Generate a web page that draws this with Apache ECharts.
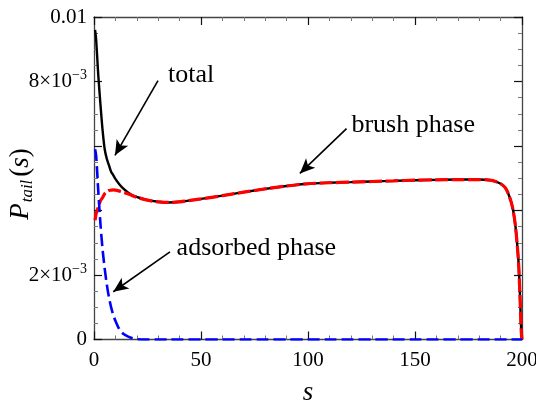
<!DOCTYPE html>
<html>
<head>
<meta charset="utf-8">
<script src="https://cdn.jsdelivr.net/npm/echarts@6/dist/echarts.min.js"></script>
<style>
html,body{margin:0;padding:0;background:#fff;overflow:hidden;}
#chart{width:536px;height:405px;}
</style>
</head>
<body>
<div id="chart"></div>
<script>
// ---- data ----
const sValues = [0.5,1,2,3,4,5,6,7,8,9,10,12,14,16,18,20,25,30,35,40,50,60,70,80,90,100,110,120,130,140,150,160,170,180,185,188,190,192,193,194,195,196,197,198,198.5,199,199.4,199.7,200];
const totalValues = [0.0096,0.0093,0.0082,0.0073,0.0065,0.0059,0.0056,0.0054,0.0052,0.0051,0.00498,0.0048,0.00466,0.00455,0.00447,0.00442,
  0.00432,0.00427,0.00425,0.00427,0.00436,0.00446,0.00457,0.00467,0.00476,0.00483,0.00486,0.00488,0.0049,0.00492,0.00494,0.00495,0.00496,0.00496,
  0.00494,0.00489,0.00483,0.00472,0.00461,0.00445,0.00425,0.00395,0.00348,0.00275,0.00225,0.00144,0.0007,0.0002,0];
const brushValues = [0.0037,0.0039,0.0041,0.0043,0.0044,0.00452,0.00458,0.00462,0.00463,0.00464,0.00463,0.0046,0.00456,0.00451,0.00446,0.00441,
  0.00432,0.00427,0.00425,0.00427,0.00436,0.00446,0.00457,0.00467,0.00476,0.00483,0.00486,0.00488,0.0049,0.00492,0.00494,0.00495,0.00496,0.00496,
  0.00494,0.00489,0.00483,0.00472,0.00461,0.00445,0.00425,0.00395,0.00348,0.00275,0.00225,0.00144,0.0007,0.0002,0];
const adsorbedValues = [0.0059,0.0057,0.0046,0.0036,0.0028,0.0022,0.0017,0.0013,0.001,0.00076,0.00058,0.0003,0.00016,0.00009,0.00004,0.00001,
  0,0,0,0,0,0,0,0,0,0,0,0,0,0,0,0,0,0,
  0,0,0,0,0,0,0,0,0,0,0,0,0,0,0];
const xTickLabels = ['0','50','100','150','200'];
const yTickLabels = ['0','{m|2×10}{sup|−3}','','','{m|8×10}{sup|−3}','0.01'];
// annotations: text, text anchor [s, P] (left/baseline), arrow start, arrow tip
const annTexts = ['total','brush phase','adsorbed phase'];
const annTextAt = [[34.6,0.00797],[120.3,0.00643],[38.6,0.00262]];
const annArrowFrom = [[29.9,0.00803],[118,0.00654],[35.5,0.00272]];
const annArrowTo = [[9.8,0.00571],[96.2,0.00515],[9.0,0.00148]];

const FONT = '"Liberation Serif", "DejaVu Serif", serif';
const pairs = (ys) => sValues.map((s,i)=>[s, ys[i]]);

const chart = echarts.init(document.getElementById('chart'), null, {renderer:'canvas'});

const axisLineStyle = {color:'#444', width:1.3};
const tickStyle = {color:'#111', width:1.2};
const minorStyle = {color:'#777', width:1};

function xAx(pos, showLabel){
  return {
    type:'value', position:pos, min:0, max:200, interval:50,
    axisLine:{show:true, onZero:false, lineStyle:axisLineStyle},
    axisTick:{show:true, inside:true, length:8, lineStyle:tickStyle},
    minorTick:{show:true, splitNumber:5, length:4, lineStyle:minorStyle},
    splitLine:{show:false}, minorSplitLine:{show:false},
    axisLabel:{show:showLabel, margin:10, fontFamily:FONT, fontSize:21, color:'#000',
      formatter:(v)=>xTickLabels[Math.round(v/50)] ?? ''},
    name: showLabel ? 's' : '', nameLocation:'middle', nameGap:40,
    nameTextStyle:{fontFamily:FONT, fontSize:27, fontStyle:'italic', color:'#000'}
  };
}
function yAx(pos, showLabel){
  return {
    type:'value', position:pos, min:0, max:0.01, interval:0.002,
    axisLine:{show:true, onZero:false, lineStyle:axisLineStyle},
    axisTick:{show:true, inside:true, length:8, lineStyle:tickStyle},
    minorTick:{show:true, splitNumber:4, length:4, lineStyle:minorStyle},
    splitLine:{show:false}, minorSplitLine:{show:false},
    axisLabel:{show:showLabel, margin:7, fontFamily:FONT, fontSize:21, color:'#000',
      formatter:(v)=>yTickLabels[Math.round(v/0.002)] ?? '',
      rich:{
        m:{fontFamily:FONT, fontSize:21, color:'#000', lineHeight:26},
        sup:{fontFamily:FONT, fontSize:14, color:'#000', verticalAlign:'top', lineHeight:14}
      }}
  };
}

const arrowLines = annArrowFrom.map((f,i)=>[{coord:f},{coord:annArrowTo[i]}]);

chart.setOption({
  animation:false,
  backgroundColor:'#fff',
  grid:{left:94, right:14, top:17, bottom:65.5, containLabel:false, outerBoundsMode:'none'},
  xAxis:[xAx('bottom',true), xAx('top',false)],
  yAxis:[yAx('left',true), yAx('right',false)],
  series:[
    {type:'line', name:'total', data:pairs(totalValues), showSymbol:false, smooth:0.3,
      lineStyle:{color:'#000', width:2.4}, z:2,
      markLine:{silent:true, symbol:['none','arrow'], symbolSize:[10,15], label:{show:false},
        lineStyle:{color:'#000', width:1.6, type:'solid'}, data:arrowLines}},
    {type:'line', name:'brush phase', data:pairs(brushValues), showSymbol:false, smooth:0.3,
      lineStyle:{color:'#ff0000', width:3.2, type:[13,3.5]}, z:3},
    {type:'line', name:'adsorbed phase', data:pairs(adsorbedValues), showSymbol:false, smooth:0.3,
      lineStyle:{color:'#0000ff', width:2.6, type:[12,5]}, z:4}
  ]
});

// text annotations placed through the axis scales
const gfx = annTexts.map((t,i)=>{
  const p = chart.convertToPixel({xAxisIndex:0, yAxisIndex:0}, annTextAt[i]);
  return {type:'text', x:p[0], y:p[1]+6, silent:true,
    style:{text:t, font:'26px '+FONT, fill:'#000', align:'left', verticalAlign:'bottom'}};
});
gfx.push({type:'text', x:21, y:184, rotation:Math.PI/2, silent:true,
  style:{text:'{P|P}{sub|tail}{p|(}{s|s}{p|)}', align:'center', verticalAlign:'middle',
    rich:{
      P:{fontFamily:FONT, fontSize:27, fontStyle:'italic', color:'#000', lineHeight:30},
      sub:{fontFamily:FONT, fontSize:17, fontStyle:'italic', color:'#000', verticalAlign:'bottom', lineHeight:18, padding:[0,3,0,1]},
      p:{fontFamily:FONT, fontSize:27, color:'#000', lineHeight:30},
      s:{fontFamily:FONT, fontSize:27, fontStyle:'italic', color:'#000', lineHeight:30}
    }}});
chart.setOption({graphic:gfx});
</script>
</body>
</html>
